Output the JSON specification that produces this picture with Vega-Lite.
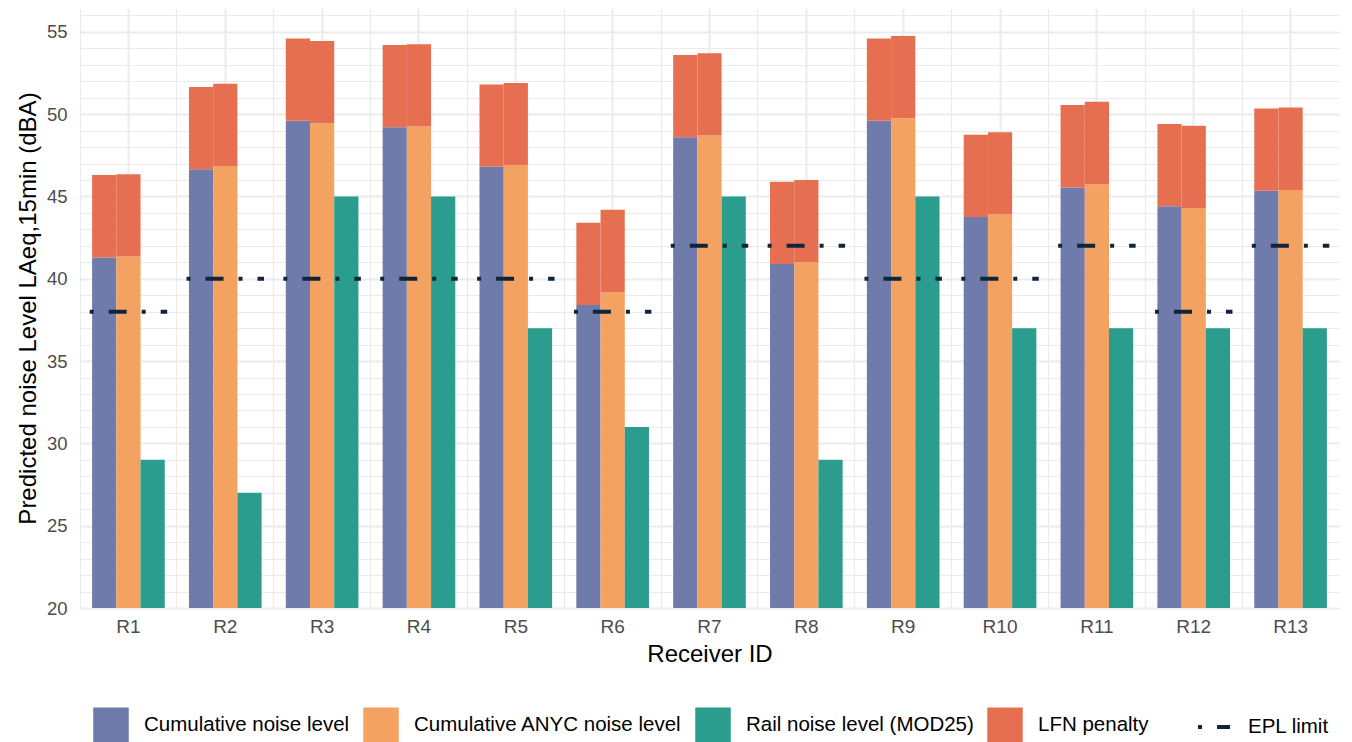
{
  "$schema": "https://vega.github.io/schema/vega-lite/v6.json",
  "width": 1259,
  "height": 600,
  "autosize": {"type": "none"},
  "padding": {"left": 80, "top": 8, "right": 13, "bottom": 134},
  "background": "white",
  "config": {
    "font": "Liberation Sans",
    "view": {"stroke": null},
    "legend": {
      "direction": "horizontal",
      "labelFontSize": 20.5,
      "labelColor": "black",
      "labelFont": "Liberation Sans",
      "labelLimit": 400,
      "labelOffset": 15,
      "columnPadding": 13,
      "padding": 0
    }
  },
  "datasets": {
    "bars": [
      {"r": "R1", "s": "Cumulative noise level", "v": 41.3, "top": 46.3},
      {"r": "R1", "s": "Cumulative ANYC noise level", "v": 41.35, "top": 46.35},
      {"r": "R1", "s": "Rail noise level (MOD25)", "v": 29},
      {"r": "R2", "s": "Cumulative noise level", "v": 46.65, "top": 51.65},
      {"r": "R2", "s": "Cumulative ANYC noise level", "v": 46.85, "top": 51.85},
      {"r": "R2", "s": "Rail noise level (MOD25)", "v": 27},
      {"r": "R3", "s": "Cumulative noise level", "v": 49.6, "top": 54.6},
      {"r": "R3", "s": "Cumulative ANYC noise level", "v": 49.45, "top": 54.45},
      {"r": "R3", "s": "Rail noise level (MOD25)", "v": 45},
      {"r": "R4", "s": "Cumulative noise level", "v": 49.2, "top": 54.2},
      {"r": "R4", "s": "Cumulative ANYC noise level", "v": 49.25, "top": 54.25},
      {"r": "R4", "s": "Rail noise level (MOD25)", "v": 45},
      {"r": "R5", "s": "Cumulative noise level", "v": 46.8, "top": 51.8},
      {"r": "R5", "s": "Cumulative ANYC noise level", "v": 46.9, "top": 51.9},
      {"r": "R5", "s": "Rail noise level (MOD25)", "v": 37},
      {"r": "R6", "s": "Cumulative noise level", "v": 38.4, "top": 43.4},
      {"r": "R6", "s": "Cumulative ANYC noise level", "v": 39.2, "top": 44.2},
      {"r": "R6", "s": "Rail noise level (MOD25)", "v": 31},
      {"r": "R7", "s": "Cumulative noise level", "v": 48.6, "top": 53.6},
      {"r": "R7", "s": "Cumulative ANYC noise level", "v": 48.7, "top": 53.7},
      {"r": "R7", "s": "Rail noise level (MOD25)", "v": 45},
      {"r": "R8", "s": "Cumulative noise level", "v": 40.9, "top": 45.9},
      {"r": "R8", "s": "Cumulative ANYC noise level", "v": 41.0, "top": 46.0},
      {"r": "R8", "s": "Rail noise level (MOD25)", "v": 29},
      {"r": "R9", "s": "Cumulative noise level", "v": 49.6, "top": 54.6},
      {"r": "R9", "s": "Cumulative ANYC noise level", "v": 49.75, "top": 54.75},
      {"r": "R9", "s": "Rail noise level (MOD25)", "v": 45},
      {"r": "R10", "s": "Cumulative noise level", "v": 43.75, "top": 48.75},
      {"r": "R10", "s": "Cumulative ANYC noise level", "v": 43.9, "top": 48.9},
      {"r": "R10", "s": "Rail noise level (MOD25)", "v": 37},
      {"r": "R11", "s": "Cumulative noise level", "v": 45.55, "top": 50.55},
      {"r": "R11", "s": "Cumulative ANYC noise level", "v": 45.75, "top": 50.75},
      {"r": "R11", "s": "Rail noise level (MOD25)", "v": 37},
      {"r": "R12", "s": "Cumulative noise level", "v": 44.4, "top": 49.4},
      {"r": "R12", "s": "Cumulative ANYC noise level", "v": 44.3, "top": 49.3},
      {"r": "R12", "s": "Rail noise level (MOD25)", "v": 37},
      {"r": "R13", "s": "Cumulative noise level", "v": 45.35, "top": 50.35},
      {"r": "R13", "s": "Cumulative ANYC noise level", "v": 45.4, "top": 50.4},
      {"r": "R13", "s": "Rail noise level (MOD25)", "v": 37}
    ],
    "epl": [
      {"r": "R1", "epl": 38, "k": "EPL limit"},
      {"r": "R2", "epl": 40, "k": "EPL limit"},
      {"r": "R3", "epl": 40, "k": "EPL limit"},
      {"r": "R4", "epl": 40, "k": "EPL limit"},
      {"r": "R5", "epl": 40, "k": "EPL limit"},
      {"r": "R6", "epl": 38, "k": "EPL limit"},
      {"r": "R7", "epl": 42, "k": "EPL limit"},
      {"r": "R8", "epl": 42, "k": "EPL limit"},
      {"r": "R9", "epl": 40, "k": "EPL limit"},
      {"r": "R10", "epl": 40, "k": "EPL limit"},
      {"r": "R11", "epl": 42, "k": "EPL limit"},
      {"r": "R12", "epl": 38, "k": "EPL limit"},
      {"r": "R13", "epl": 42, "k": "EPL limit"}
    ]
  },
  "layer": [
    {
      "data": {"name": "bars"},
      "mark": {"type": "bar"},
      "encoding": {
        "x": {
          "field": "r", "type": "nominal",
          "sort": ["R1","R2","R3","R4","R5","R6","R7","R8","R9","R10","R11","R12","R13"],
          "scale": {"paddingInner": 0, "paddingOuter": 0},
          "axis": {
            "title": "Receiver ID", "titleFontSize": 24, "titleFontWeight": "normal", "titleColor": "black", "titlePadding": 6,
            "labelFontSize": 19, "labelColor": "#4D4D4D", "labelPadding": 9, "labelAngle": 0,
            "domain": false, "ticks": false,
            "grid": true, "gridColor": "#EBEBEB", "gridWidth": 2
          }
        },
        "xOffset": {
          "field": "s", "type": "nominal",
          "sort": ["Cumulative noise level", "Cumulative ANYC noise level", "Rail noise level (MOD25)"],
          "scale": {"domain": ["Cumulative noise level", "Cumulative ANYC noise level", "Rail noise level (MOD25)"], "paddingInner": 0, "paddingOuter": 0.5}
        },
        "y": {
          "field": "v", "type": "quantitative",
          "scale": {"domain": [20, 56.45], "nice": false, "zero": false},
          "axis": {
            "title": "Predicted noise Level LAeq,15min (dBA)", "titleFontSize": 24, "titleFontWeight": "normal", "titleColor": "black", "titlePadding": 6,
            "values": [20, 25, 30, 35, 40, 45, 50, 55],
            "labelFontSize": 18.5, "labelColor": "#4D4D4D", "labelPadding": 13,
            "domain": false, "ticks": false,
            "grid": true, "gridColor": "#EBEBEB", "gridWidth": 2
          }
        },
        "y2": {"datum": 20},
        "color": {
          "field": "s", "type": "nominal",
          "scale": {
            "domain": ["Cumulative noise level", "Cumulative ANYC noise level", "Rail noise level (MOD25)", "LFN penalty"],
            "range": ["#6E7BAB", "#F3A261", "#2A9D8F", "#E76F51"]
          },
          "legend": {"title": null, "orient": "none", "legendX": 13, "legendY": 699, "symbolType": "square", "symbolSize": 1260, "symbolStrokeWidth": 0}
        }
      }
    },
    {
      "data": {"name": "bars"},
      "transform": [{"filter": "datum.top != null"}],
      "mark": {"type": "bar"},
      "encoding": {
        "x": {"field": "r", "type": "nominal", "sort": ["R1","R2","R3","R4","R5","R6","R7","R8","R9","R10","R11","R12","R13"], "axis": null},
        "xOffset": {"field": "s", "type": "nominal", "sort": ["Cumulative noise level", "Cumulative ANYC noise level", "Rail noise level (MOD25)"]},
        "y": {"field": "v", "type": "quantitative", "axis": null},
        "y2": {"field": "top"},
        "color": {"datum": "LFN penalty", "type": "nominal"}
      }
    },
    {
      "data": {"name": "epl"},
      "mark": {"type": "rule", "strokeWidth": 4, "color": "#10243A", "strokeCap": "butt"},
      "encoding": {
        "x": {
          "field": "r", "type": "nominal", "bandPosition": 0.1,
          "sort": ["R1","R2","R3","R4","R5","R6","R7","R8","R9","R10","R11","R12","R13"],
          "axis": {"orient": "top", "title": null, "labels": false, "ticks": false, "domain": false, "bandPosition": 0, "grid": true, "gridColor": "#EBEBEB", "gridWidth": 1.2}
        },
        "x2": {"field": "r", "bandPosition": 0.9},
        "y": {
          "field": "epl", "type": "quantitative",
          "axis": {"orient": "right", "title": null, "labels": false, "ticks": false, "domain": false, "grid": true, "gridColor": "#EBEBEB", "gridWidth": 1.2,
            "values": [20,21,22,23,24,25,26,27,28,29,30,31,32,33,34,35,36,37,38,39,40,41,42,43,44,45,46,47,48,49,50,51,52,53,54,55,56]}
        },
        "strokeDash": {
          "field": "k", "type": "nominal",
          "scale": {"domain": ["EPL limit"], "range": [[4, 15, 18, 15]]},
          "legend": {"title": null, "orient": "none", "legendX": 1116, "legendY": 701, "symbolType": "stroke", "symbolSize": 1024, "symbolStrokeColor": "#10243A", "symbolStrokeWidth": 4, "symbolDash": [4, 14, 14, 100], "labelOffset": 16}
        }
      }
    }
  ],
  "resolve": {"axis": {"x": "independent", "y": "independent"}}
}
